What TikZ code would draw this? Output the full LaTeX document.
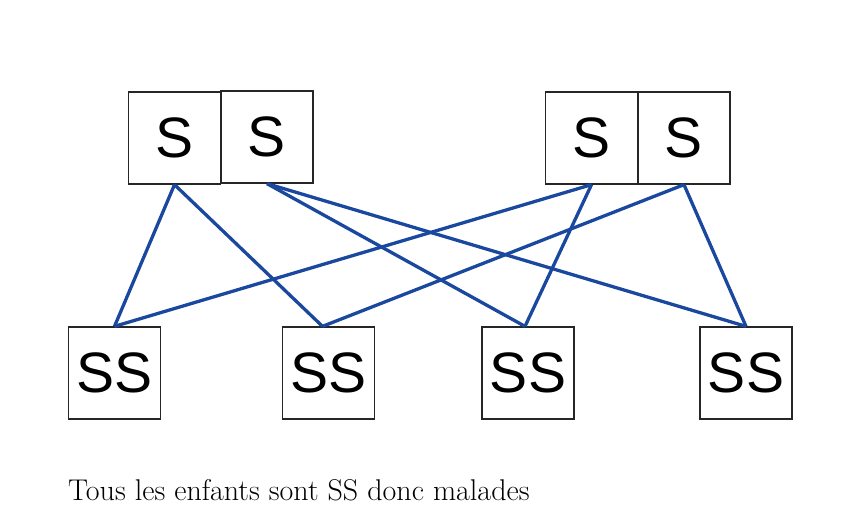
\documentclass[tikz,border=0pt]{standalone}
\usepackage{fontspec}
\newfontfamily\boxfont{Liberation Sans}
\definecolor{linkblue}{RGB}{25,72,158}
\begin{document}
\begin{tikzpicture}[x=1pt,y=-1pt,
  sbox/.style={draw=black!85,line width=1.3pt,minimum width=92pt,minimum height=92pt,inner sep=0pt,font=\boxfont\fontsize{57}{57}\selectfont},
  link/.style={draw=linkblue,line width=3.3pt}]
\useasboundingbox (0,0) rectangle (852,531);
\node[sbox] (a1) at (174.5,138) {S};
\node[sbox] (a2) at (267,137) {S};
\node[sbox] (b1) at (591.5,138) {S};
\node[sbox] (b2) at (684,138) {S};
\node[sbox] (c1) at (114.5,373) {SS};
\node[sbox] (c2) at (328.5,373) {SS};
\node[sbox] (c3) at (528,373) {SS};
\node[sbox] (c4) at (746,373) {SS};
\draw[link] (a1.south) -- (c1.north);
\draw[link] (a1.south) -- ([xshift=-6pt]c2.north);
\draw[link] (a2.south) -- ([xshift=-3pt]c3.north);
\draw[link] (a2.south) -- (c4.north);
\draw[link] (b1.south) -- (c1.north);
\draw[link] (b1.south) -- ([xshift=-3pt]c3.north);
\draw[link] (b2.south) -- ([xshift=-6pt]c2.north);
\draw[link] (b2.south) -- (c4.north);
\node[anchor=base west,inner sep=0pt,font=\fontsize{30}{30}\selectfont] (cap) at (68,500) {Tous les enfants sont SS donc malades};
\end{tikzpicture}
\end{document}
